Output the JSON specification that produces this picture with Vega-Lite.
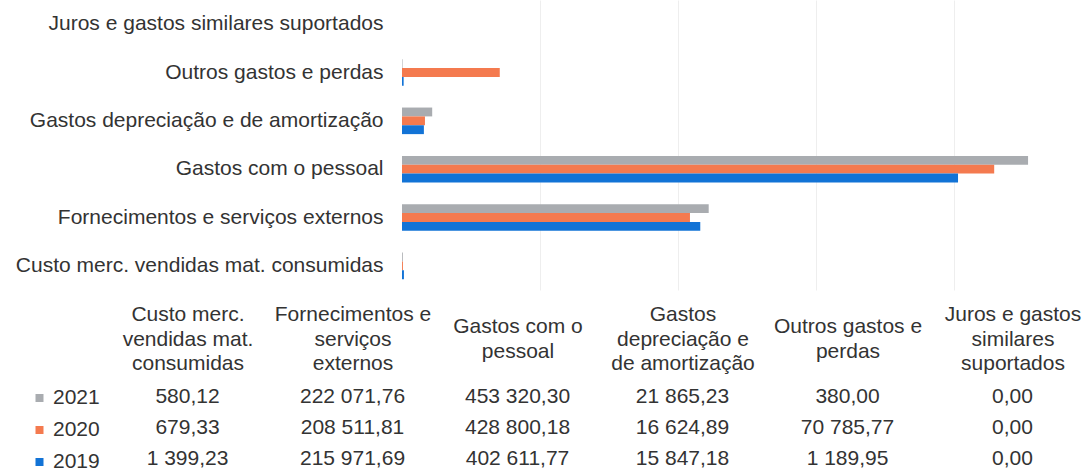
{
  "$schema": "https://vega.github.io/schema/vega-lite/v6.json",
  "padding": {"left": 15, "top": 0, "right": 0, "bottom": 0},
  "background": "white",
  "config": {
    "locale": {"number": {"decimal": ",", "thousands": " ", "grouping": [3], "currency": ["", ""]}},
    "view": {"stroke": null},
    "font": "Liberation Sans, Arial, sans-serif",
    "concat": {"spacing": 13}
  },
  "datasets": {
    "costs": [
      {"category": "Custo merc. vendidas mat. consumidas", "year": "2021", "value": 580.12},
      {"category": "Custo merc. vendidas mat. consumidas", "year": "2020", "value": 679.33},
      {"category": "Custo merc. vendidas mat. consumidas", "year": "2019", "value": 1399.23},
      {"category": "Fornecimentos e serviços externos", "year": "2021", "value": 222071.76},
      {"category": "Fornecimentos e serviços externos", "year": "2020", "value": 208511.81},
      {"category": "Fornecimentos e serviços externos", "year": "2019", "value": 215971.69},
      {"category": "Gastos com o pessoal", "year": "2021", "value": 453320.30},
      {"category": "Gastos com o pessoal", "year": "2020", "value": 428800.18},
      {"category": "Gastos com o pessoal", "year": "2019", "value": 402611.77},
      {"category": "Gastos depreciação e de amortização", "year": "2021", "value": 21865.23},
      {"category": "Gastos depreciação e de amortização", "year": "2020", "value": 16624.89},
      {"category": "Gastos depreciação e de amortização", "year": "2019", "value": 15847.18},
      {"category": "Outros gastos e perdas", "year": "2021", "value": 380.00},
      {"category": "Outros gastos e perdas", "year": "2020", "value": 70785.77},
      {"category": "Outros gastos e perdas", "year": "2019", "value": 1189.95},
      {"category": "Juros e gastos similares suportados", "year": "2021", "value": 0},
      {"category": "Juros e gastos similares suportados", "year": "2020", "value": 0},
      {"category": "Juros e gastos similares suportados", "year": "2019", "value": 0}
    ]
  },
  "vconcat": [
    {
      "width": 656,
      "height": 290,
      "data": {"name": "costs"},
      "mark": {"type": "bar"},
      "encoding": {
        "y": {
          "field": "category",
          "type": "nominal",
          "sort": ["Juros e gastos similares suportados", "Outros gastos e perdas", "Gastos depreciação e de amortização", "Gastos com o pessoal", "Fornecimentos e serviços externos", "Custo merc. vendidas mat. consumidas"],
          "scale": {"paddingInner": 0.45, "paddingOuter": 0.225},
          "axis": {"title": null, "domain": false, "ticks": false, "labelPadding": 19, "labelFontSize": 21, "labelColor": "#333333", "labelLimit": 600}
        },
        "x": {
          "field": "value",
          "type": "quantitative",
          "scale": {"domain": [0, 475000]},
          "axis": {"title": null, "labels": false, "ticks": false, "domain": false, "grid": true, "gridColor": "#eeeeee", "values": [100000, 200000, 300000, 400000]}
        },
        "yOffset": {
          "field": "year",
          "type": "nominal",
          "sort": ["2021", "2020", "2019"],
          "scale": {"paddingInner": 0, "paddingOuter": 0}
        },
        "color": {
          "field": "year",
          "type": "nominal",
          "scale": {"domain": ["2021", "2020", "2019"], "range": ["#a9acb0", "#f47a4f", "#1273d6"]},
          "legend": {"orient": "none", "legendX": -373, "legendY": 387.5, "title": null, "symbolType": "square", "symbolSize": 64, "symbolStrokeWidth": 0, "symbolOpacity": 1, "labelFontSize": 21, "labelColor": "#333333", "labelOffset": 3, "rowPadding": 10, "padding": 0}
        }
      }
    },
    {
      "width": 656,
      "height": 93,
      "data": {"name": "costs"},
      "mark": {"type": "text", "fontSize": 21, "color": "#333333"},
      "encoding": {
        "x": {
          "field": "category",
          "type": "nominal",
          "sort": ["Custo merc. vendidas mat. consumidas", "Fornecimentos e serviços externos", "Gastos com o pessoal", "Gastos depreciação e de amortização", "Outros gastos e perdas", "Juros e gastos similares suportados"],
          "scale": {"range": [-297, 693], "paddingInner": 0, "paddingOuter": 0},
          "axis": {
            "orient": "top", "title": null, "domain": false, "ticks": false, "labelAngle": 0,
            "labelPadding": {"expr": "(datum.value == 'Gastos com o pessoal' || datum.value == 'Outros gastos e perdas') ? 54.25 : 66.5"},
            "labelBaseline": "middle", "labelFontSize": 21, "labelLineHeight": 24.5,
            "labelColor": "#333333", "labelLimit": 300, "labelOverlap": false, "labelFlush": false,
            "labelExpr": "datum.value == 'Custo merc. vendidas mat. consumidas' ? ['Custo merc.', 'vendidas mat.', 'consumidas'] : datum.value == 'Fornecimentos e serviços externos' ? ['Fornecimentos e', 'serviços', 'externos'] : datum.value == 'Gastos com o pessoal' ? ['Gastos com o', 'pessoal'] : datum.value == 'Gastos depreciação e de amortização' ? ['Gastos', 'depreciação e', 'de amortização'] : datum.value == 'Outros gastos e perdas' ? ['Outros gastos e', 'perdas'] : ['Juros e gastos', 'similares', 'suportados']"
          }
        },
        "y": {
          "field": "year",
          "type": "nominal",
          "sort": ["2021", "2020", "2019"],
          "scale": {"paddingInner": 0, "paddingOuter": 0},
          "axis": null
        },
        "text": {"field": "value", "type": "quantitative", "format": ",.2f"}
      }
    }
  ]
}
